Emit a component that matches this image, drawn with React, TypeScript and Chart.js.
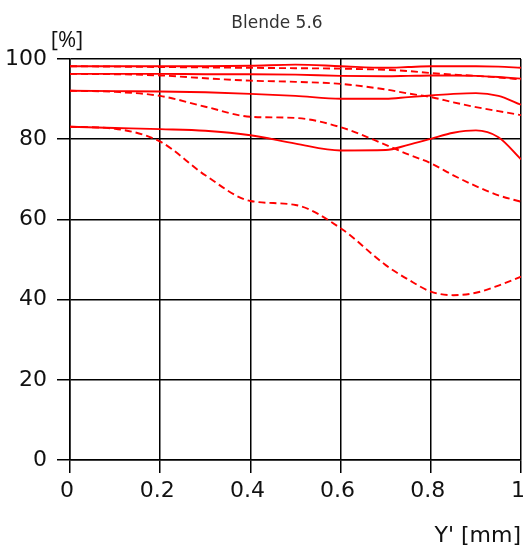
import React, { useEffect, useRef } from "react";
import { Chart, registerables } from "chart.js";

Chart.register(...registerables);

const TITLE = "Blende 5.6";
const Y_UNIT = "[%]";
const X_TITLE = "Y' [mm]";

const xPositions = [0, 0.1, 0.2, 0.3, 0.4, 0.5, 0.6, 0.7, 0.75, 0.8, 0.85, 0.9, 0.95, 1];

const solid1 = [98.2, 98.2, 98.2, 98.2, 98.3, 98.6, 98.2, 97.8, 98.0, 98.2, 98.2, 98.2, 98.1, 97.8];
const dashed1 = [98.2, 98.1, 98.0, 97.9, 97.8, 97.7, 97.6, 97.3, 97.0, 96.5, 96.1, 95.8, 95.4, 94.9];
const solid2 = [96.3, 96.3, 96.3, 96.2, 96.2, 96.1, 95.8, 95.7, 95.8, 95.9, 95.9, 95.8, 95.5, 95.1];
const dashed2 = [96.3, 96.2, 95.9, 95.2, 94.6, 94.3, 93.8, 92.4, 91.4, 90.5, 89.2, 88.0, 87.0, 86.0];
const solid3 = [92.1, 92.0, 91.9, 91.7, 91.3, 90.8, 90.1, 90.1, 90.5, 90.9, 91.3, 91.5, 90.8, 88.6];
const dashed3 = [92.1, 91.8, 90.8, 88.1, 85.6, 85.3, 83.0, 78.6, 76.2, 74.0, 71.0, 68.3, 66.0, 64.4];
const solid4 = [83.1, 82.8, 82.5, 82.1, 81.0, 78.9, 77.2, 77.3, 78.6, 80.1, 81.6, 82.2, 80.5, 75.0];
const dashed4 = [83.1, 82.6, 79.4, 71.0, 64.6, 63.6, 57.8, 48.6, 45.0, 42.0, 41.1, 41.7, 43.5, 45.7];

const xTickValues = [0, 0.2, 0.4, 0.6, 0.8, 1];
const xTickLabels = ["0", "0.2", "0.4", "0.6", "0.8", "1"];
const yTickValues = [0, 20, 40, 60, 80, 100];
const yTickLabels = ["0", "20", "40", "60", "80", "100"];

const RED = "rgb(255,0,0)";
const FONT = "'DejaVu Sans', sans-serif";
const FONT2 = "'Open Sans', 'DejaVu Sans', sans-serif";

const seriesList = [
  { name: "s1", values: solid1, dashed: false },
  { name: "d1", values: dashed1, dashed: true },
  { name: "s2", values: solid2, dashed: false },
  { name: "d2", values: dashed2, dashed: true },
  { name: "s3", values: solid3, dashed: false },
  { name: "d3", values: dashed3, dashed: true },
  { name: "s4", values: solid4, dashed: false },
  { name: "d4", values: dashed4, dashed: true },
];

const textPlugin = {
  id: "extraText",
  afterDraw(chart: any) {
    const { ctx, chartArea } = chart;
    ctx.save();
    ctx.textBaseline = "alphabetic";
    ctx.fillStyle = "#333";
    ctx.font = `17px ${FONT}`;
    ctx.textAlign = "center";
    ctx.fillText(TITLE, chartArea.left + 207, chartArea.top - 31);
    ctx.fillStyle = "#111";
    ctx.font = `22px ${FONT2}`;
    ctx.fillText(Y_UNIT, chartArea.left - 3, chartArea.top - 12);
    ctx.font = `22px ${FONT}`;
    ctx.textAlign = "right";
    ctx.fillText(X_TITLE, chartArea.right, chartArea.bottom + 82);
    ctx.restore();
  },
};

export default function App() {
  const ref = useRef<HTMLCanvasElement | null>(null);
  useEffect(() => {
    if (!ref.current) return;
    const datasets = seriesList.map((s) => ({
      label: s.name,
      data: xPositions.map((x, i) => ({ x, y: s.values[i] })),
      borderColor: RED,
      backgroundColor: RED,
      borderWidth: 1.9,
      borderDash: s.dashed ? [7, 4] : [],
      pointRadius: 0,
      fill: false,
      cubicInterpolationMode: "monotone" as const,
    }));
    const chart = new Chart(ref.current, {
      type: "line",
      data: { datasets },
      options: {
        animation: false,
        responsive: false,
        layout: { padding: { top: 59, right: 2, left: 0, bottom: 0 } },
        plugins: { legend: { display: false }, title: { display: false }, tooltip: { enabled: false } },
        scales: {
          x: {
            type: "linear",
            min: 0,
            max: 1,
            afterBuildTicks: (scale: any) => {
              scale.ticks = xTickValues.map((v) => ({ value: v }));
            },
            afterFit: (scale: any) => {
              scale.height = 89;
              scale.paddingLeft = 0;
              scale.paddingRight = 0;
            },
            grid: { color: "#000", lineWidth: 1.5, tickLength: 13, drawTicks: true },
            border: { display: true, color: "#000", width: 1.5 },
            ticks: {
              color: "#111",
              font: { family: FONT, size: 22 },
              padding: 5,
              maxRotation: 0,
              autoSkip: false,
              labelOffset: -3,
              callback: (_v: any, i: number) => xTickLabels[i],
            },
          },
          y: {
            type: "linear",
            min: 0,
            max: 100,
            afterBuildTicks: (scale: any) => {
              scale.ticks = yTickValues.map((v) => ({ value: v }));
            },
            afterFit: (scale: any) => {
              scale.width = 70;
              scale.paddingTop = 0;
              scale.paddingBottom = 0;
            },
            grid: { color: "#000", lineWidth: 1.5, tickLength: 13, drawTicks: true },
            border: { display: true, color: "#000", width: 1.5 },
            ticks: {
              color: "#111",
              font: { family: FONT, size: 22 },
              padding: 10,
              autoSkip: false,
              callback: (_v: any, i: number) => yTickLabels[i],
            },
          },
        },
      },
      plugins: [textPlugin],
    });
    return () => chart.destroy();
  }, []);
  return (
    <div style={{ position: "fixed", left: 0, top: 0, width: 523, height: 549, background: "#fff" }}>
      <canvas ref={ref} width={523} height={549} style={{ display: "block" }} />
    </div>
  );
}
